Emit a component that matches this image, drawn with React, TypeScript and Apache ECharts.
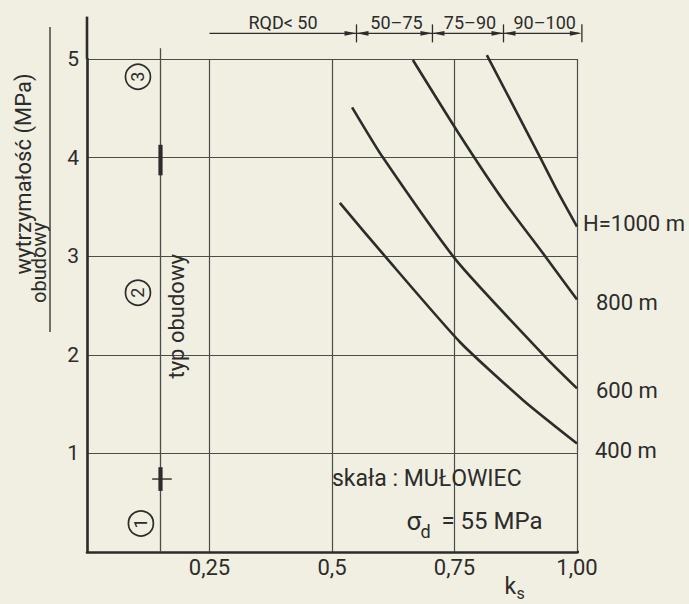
import React, { useEffect, useRef } from "react";
import * as echarts from "echarts";

const W = 689;
const H = 604;

// axes
const xTickValues = [0, 0.25, 0.5, 0.75, 1.0];
const xTickLabels = ["", "0,25", "0,5", "0,75", "1,00"];
const yTickValues = [0, 1, 2, 3, 4, 5];
const yTickLabels = ["", "1", "2", "3", "4", "5"];

// curves: support strength vs k_s for depths H
const curveNames = ["400 m", "600 m", "800 m", "H=1000 m"];
const ks400 = [0.516, 0.608, 0.761, 0.89, 1.0];
const sd400 = [3.54, 3.0, 2.13, 1.54, 1.1];
const ks600 = [0.541, 0.604, 0.755, 0.935, 1.0];
const sd600 = [4.51, 4.0, 2.95, 1.98, 1.66];
const ks800 = [0.665, 0.758, 0.849, 0.935, 1.0];
const sd800 = [4.99, 4.25, 3.57, 3.0, 2.56];
const ks1000 = [0.816, 0.925, 0.96, 1.0];
const sd1000 = [5.04, 4.0, 3.66, 3.3];
const curveKs = [ks400, ks600, ks800, ks1000];
const curveSd = [sd400, sd600, sd800, sd1000];

// support type boundary
const typeBoundaryKs = 0.15;
const typeBoundaryTop = 5.11;
const typeMarkLow = [3.82, 0.62];
const typeMarkHigh = [4.13, 0.86];
const typeCrossLevel = 0.74;
const typeCrossKs = [0.133, 0.173];
const typeNumbers = ["3", "2", "1"];
const typeNumberKs = [0.104, 0.104, 0.11];
const typeNumberSd = [4.82, 2.63, 0.29];

// RQD ranges along the top
const rqdLabels = ["RQD< 50", "50–75", "75–90", "90–100"];
const rqdBounds = [0.25, 0.55, 0.705, 0.85, 1.01];
const rqdLevel = 5.26;

// axis extensions
const yAxisTop = 5.43;
const xAxisEnd = 1.15;

const INK = "#2c2c2a";
const GRID = "#4c4c48";
const BG = "#f0efe2";
const FONT = "Roboto, 'Noto Sans', sans-serif";

export default function App() {
  const ref = useRef<HTMLDivElement>(null);

  useEffect(() => {
    const el = ref.current;
    if (!el) return;
    const chart = echarts.init(el, undefined, { renderer: "svg", width: W, height: H });

    const seg = (data: number[][], width: number, color = INK) => ({
      type: "line",
      data,
      symbol: "none",
      clip: false,
      silent: true,
      lineStyle: { color, width, cap: "butt" },
      z: 4,
    });

    const series: any[] = curveNames.map((name, i) => ({
      type: "line",
      name,
      data: curveKs[i].map((k, j) => [k, curveSd[i][j]]),
      smooth: 0.2,
      symbol: "none",
      clip: false,
      lineStyle: { color: INK, width: 2.6 },
      z: 5,
    }));

    series.push(seg([[typeBoundaryKs, 0], [typeBoundaryKs, typeBoundaryTop]], 1.3, GRID));
    typeMarkLow.forEach((lo, i) => {
      series.push(seg([[typeBoundaryKs, lo], [typeBoundaryKs, typeMarkHigh[i]]], 4.2));
    });
    series.push(seg([[typeCrossKs[0], typeCrossLevel], [typeCrossKs[1], typeCrossLevel]], 1.4));
    series.push(seg([[0, 5], [0, yAxisTop]], 2.6));
    series.push(seg([[1, 0], [xAxisEnd, 0]], 2.6));
    series.push(seg([[rqdBounds[0], rqdLevel], [rqdBounds[rqdBounds.length - 1], rqdLevel]], 1.3));

    const textStyle = { color: INK, fontFamily: FONT };

    chart.setOption({
      animation: false,
      backgroundColor: BG,
      grid: { left: 87, right: 112, top: 59, bottom: 52 },
      xAxis: {
        type: "value",
        min: 0,
        max: 1,
        interval: 0.25,
        axisLine: { show: true, lineStyle: { color: INK, width: 2.6 } },
        axisTick: { show: false },
        axisLabel: {
          ...textStyle,
          fontSize: 22,
          margin: 4,
          formatter: (v: number) => {
            const i = xTickValues.findIndex((t) => Math.abs(t - v) < 1e-6);
            return i >= 0 ? xTickLabels[i] : "";
          },
        },
        splitLine: { show: true, lineStyle: { color: GRID, width: 1.2 } },
      },
      yAxis: {
        type: "value",
        min: 0,
        max: 5,
        interval: 1,
        axisLine: { show: true, lineStyle: { color: INK, width: 2.6 } },
        axisTick: { show: false },
        axisLabel: {
          ...textStyle,
          fontSize: 21,
          margin: 8,
          formatter: (v: number) => {
            const i = yTickValues.findIndex((t) => Math.abs(t - v) < 1e-6);
            return i >= 0 ? yTickLabels[i] : "";
          },
        },
        splitLine: { show: true, lineStyle: { color: GRID, width: 1.2 } },
      },
      series,
    });

    const px = (x: number, y: number) =>
      chart.convertToPixel({ gridIndex: 0 }, [x, y]) as number[];

    const graphics: any[] = [];

    // curve end labels
    const labelOffsets = [
      [18, 7],
      [19, 2],
      [19, 3],
      [6, -3],
    ];
    curveNames.forEach((name, i) => {
      const n = curveKs[i].length - 1;
      const p = px(curveKs[i][n], curveSd[i][n]);
      graphics.push({
        type: "text",
        x: p[0] + labelOffsets[i][0],
        y: p[1] + labelOffsets[i][1],
        style: { text: name, fill: INK, font: `22px ${FONT}`, textAlign: "left", textVerticalAlign: "middle" },
      });
    });

    // RQD ticks, arrows, labels
    const ry = px(0, rqdLevel)[1];
    rqdBounds.slice(1).forEach((b) => {
      const x = px(b, rqdLevel)[0];
      graphics.push({ type: "line", shape: { x1: x, y1: ry - 9, x2: x, y2: ry + 9 }, style: { stroke: INK, lineWidth: 1.3 } });
    });
    const arrow = (tip: number, dir: number) => ({
      type: "polygon",
      shape: { points: [[tip, ry], [tip - 12 * dir, ry - 2.4], [tip - 12 * dir, ry + 2.4]] },
      style: { fill: INK },
    });
    rqdLabels.forEach((lab, i) => {
      const x0 = px(rqdBounds[i], rqdLevel)[0];
      const x1 = px(rqdBounds[i + 1], rqdLevel)[0];
      graphics.push(arrow(x1, 1));
      if (i > 0) graphics.push(arrow(x0, -1));
      graphics.push({
        type: "text",
        x: (x0 + x1) / 2 + (i === 0 ? 0 : 2),
        y: ry - 11,
        style: { text: lab, fill: INK, font: `18px ${FONT}`, textAlign: "center", textVerticalAlign: "middle" },
      });
    });

    // circled support-type numbers
    typeNumbers.forEach((t, i) => {
      const p = px(typeNumberKs[i], typeNumberSd[i]);
      graphics.push({ type: "circle", shape: { cx: p[0], cy: p[1], r: 12.5 }, style: { fill: "none", stroke: INK, lineWidth: 1.7 } });
      graphics.push({
        type: "text",
        x: p[0],
        y: p[1],
        rotation: Math.PI / 2,
        style: { text: t, fill: INK, font: `18px ${FONT}`, textAlign: "center", textVerticalAlign: "middle" },
      });
    });

    // "typ obudowy"
    const tp = px(0.182, 2.39);
    graphics.push({
      type: "text",
      x: tp[0],
      y: tp[1],
      rotation: Math.PI / 2,
      style: { text: "typ obudowy", fill: INK, font: `22px ${FONT}`, textAlign: "center", textVerticalAlign: "middle" },
    });

    // rock annotations
    const sp = px(0.5, 0.75);
    graphics.push({
      type: "text",
      x: sp[0],
      y: sp[1],
      style: { text: "skała : MUŁOWIEC", fill: INK, font: `23px ${FONT}`, textAlign: "left", textVerticalAlign: "middle" },
    });
    const sg = px(0.652, 0.31);
    graphics.push({
      type: "text",
      x: sg[0],
      y: sg[1],
      style: { text: "σ", fill: INK, font: `26px ${FONT}`, textAlign: "left", textVerticalAlign: "middle" },
    });
    graphics.push({
      type: "text",
      x: sg[0] + 14,
      y: sg[1] + 10,
      style: { text: "d", fill: INK, font: `18px ${FONT}`, textAlign: "left", textVerticalAlign: "middle" },
    });
    graphics.push({
      type: "text",
      x: sg[0] + 35,
      y: sg[1],
      style: { text: "= 55 MPa", fill: INK, font: `24px ${FONT}`, textAlign: "left", textVerticalAlign: "middle" },
    });

    // x-axis name k_s
    const kp = px(0.852, 0);
    graphics.push({
      type: "text",
      x: kp[0],
      y: kp[1] + 34,
      style: { text: "k", fill: INK, font: `23px ${FONT}`, textAlign: "left", textVerticalAlign: "middle" },
    });
    graphics.push({
      type: "text",
      x: kp[0] + 12,
      y: kp[1] + 41,
      style: { text: "s", fill: INK, font: `16px ${FONT}`, textAlign: "left", textVerticalAlign: "middle" },
    });

    // y-axis name
    graphics.push({
      type: "text",
      x: 23,
      y: 174,
      rotation: Math.PI / 2,
      style: { text: "wytrzymałość (MPa)", fill: INK, font: `22px ${FONT}`, textAlign: "center", textVerticalAlign: "middle" },
    });
    graphics.push({
      type: "text",
      x: 39,
      y: 303,
      rotation: Math.PI / 2,
      style: { text: "obudowy", fill: INK, font: `20px ${FONT}`, textAlign: "left", textVerticalAlign: "middle" },
    });
    graphics.push({ type: "line", shape: { x1: 50, y1: 27, x2: 50, y2: 332 }, style: { stroke: INK, lineWidth: 1.3 } });

    chart.setOption({ graphic: graphics });

    return () => chart.dispose();
  }, []);

  return <div ref={ref} style={{ position: "fixed", left: 0, top: 0, width: W, height: H }} />;
}
